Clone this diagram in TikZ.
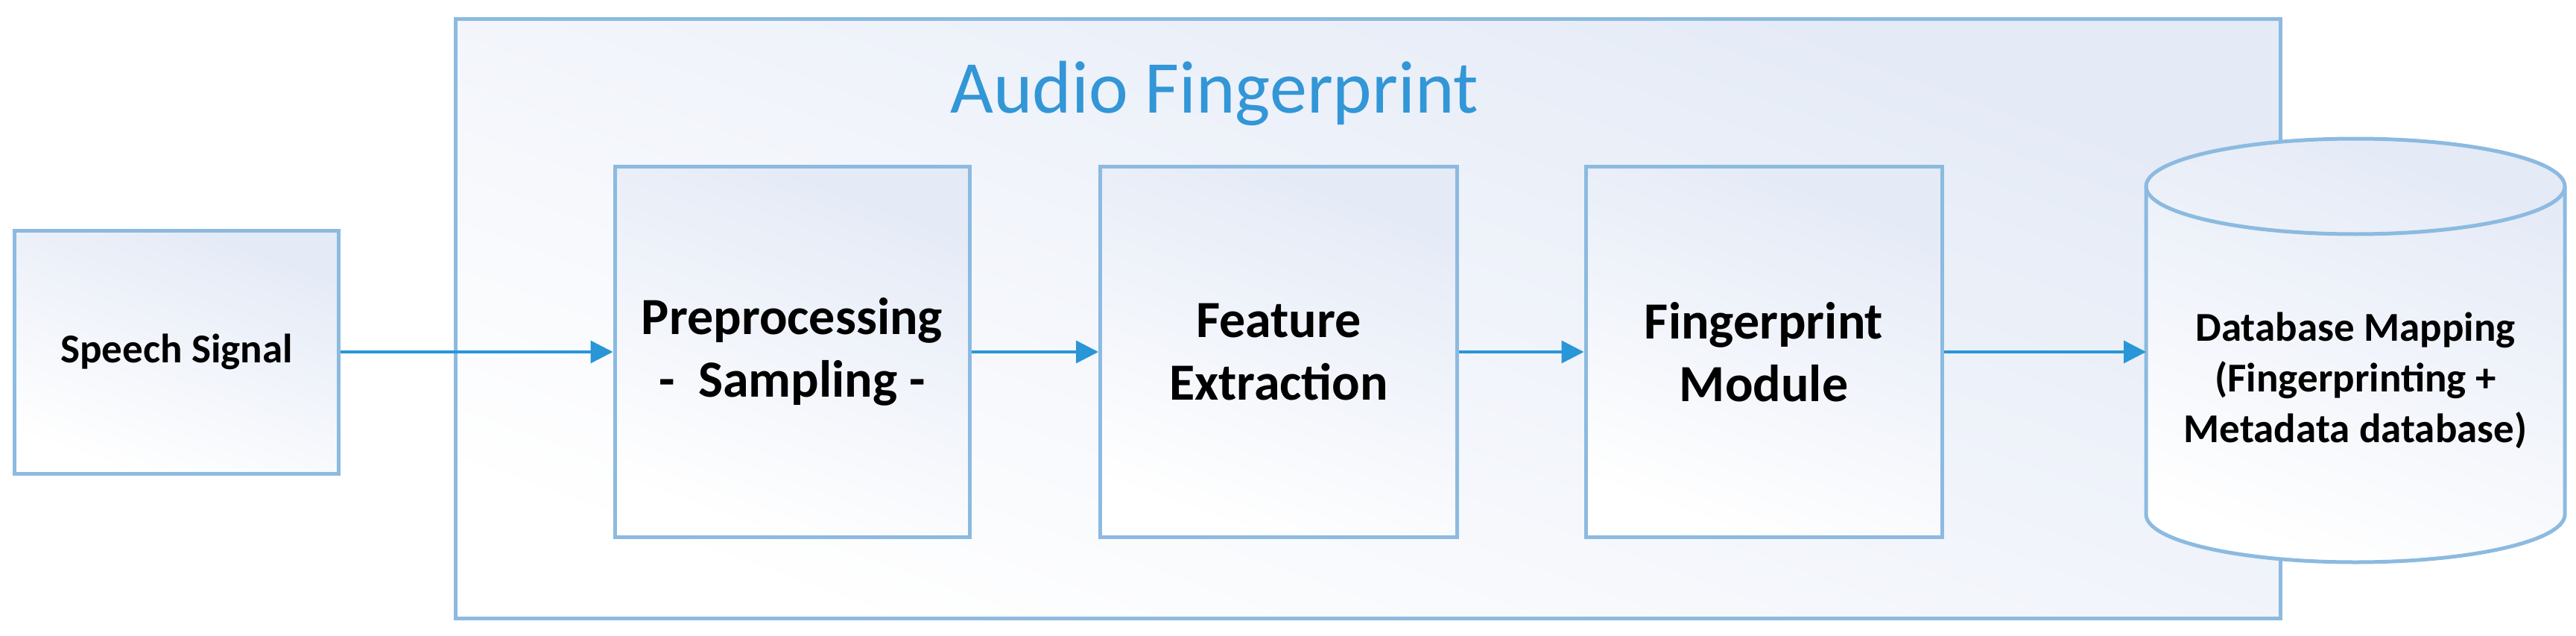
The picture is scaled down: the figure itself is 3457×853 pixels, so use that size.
\documentclass[tikz,border=0pt]{standalone}
\usepackage{fontspec}
\setmainfont{Carlito}
\usetikzlibrary{shapes.geometric,arrows.meta}
\definecolor{bord}{RGB}{140,186,224}
\definecolor{arr}{RGB}{40,150,215}
\definecolor{ttl}{RGB}{50,150,215}
\definecolor{tint}{RGB}{228,234,246}
\begin{document}
\begin{tikzpicture}[x=1pt,y=-1pt,
  box/.style={draw=bord,line width=5pt,shading=axis,top color=tint,bottom color=white,shading angle=-20,inner sep=0pt},
  lab/.style={font=\bfseries\fontsize{70}{84}\selectfont,align=center,text=black},
  conn/.style={draw=arr,line width=3.5pt,-{Triangle[length=30pt,width=30pt]}}]
\useasboundingbox (0,0) rectangle (3457,853);
\node[box,minimum width=2449pt,minimum height=803pt] (outer) at (1835.5,427.5) {};
\node[font=\fontsize{100}{115}\selectfont,text=ttl] (title) at (1630,125) {Audio Fingerprint};
\node[box,minimum width=435pt,minimum height=326pt] (speech) at (237,472) {};
\node[lab,font=\bfseries\fontsize{55}{66}\selectfont] (speecht) at (speech) {Speech Signal};
\node[box,minimum width=476pt,minimum height=497pt] (pre) at (1063,472) {};
\node[lab] at (pre) {Preprocessing\\- \ Sampling -};
\node[box,minimum width=479pt,minimum height=497pt] (feat) at (1716,472) {};
\node[lab] at (feat) {Feature\\Extraction};
\node[box,minimum width=478pt,minimum height=497pt] (fing) at (2367,472) {};
\node[lab] at (fing) {Fingerprint\\Module};
% cylinder
\path[box] (2880,250) -- (2880,690) arc[start angle=180,end angle=360,x radius=281,y radius=-64] -- (3442,250) arc[start angle=0,end angle=-180,x radius=281,y radius=64] -- cycle;
\draw[draw=bord,line width=5pt] (2880,250) arc[start angle=180,end angle=360,x radius=281,y radius=-64];
\node[lab,font=\bfseries\fontsize{55}{68}\selectfont] (dbt) at (3161,510) {Database Mapping\\(Fingerprinting +\\Metadata database)};
\coordinate (dbl) at (2880,472);
\draw[conn] (speech.east) -- (pre.west);
\draw[conn] (pre.east) -- (feat.west);
\draw[conn] (feat.east) -- (fing.west);
\draw[conn] (fing.east) -- (dbl);
\end{tikzpicture}
\end{document}
